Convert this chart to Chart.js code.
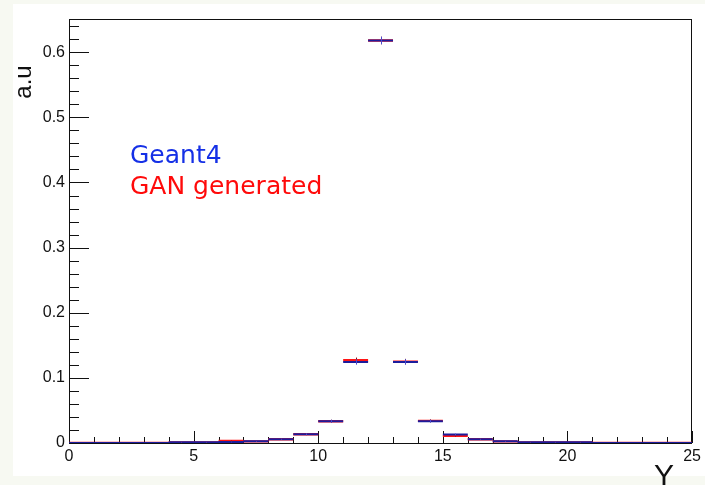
<!DOCTYPE html>
<html>
<head>
<meta charset="utf-8">
<script src="https://cdn.jsdelivr.net/npm/chart.js@4.4.1/dist/chart.umd.min.js"></script>
<style>
  html, body { margin: 0; padding: 0; background: #f7f9f2; overflow: hidden; }
  canvas { display: block; }
</style>
</head>
<body>
<canvas id="c" width="705" height="485"></canvas>
<script>
// Histogram bins: low edges, unit width
const BIN_LOW = [0, 1, 2, 3, 4, 5, 6, 7, 8, 9, 10, 11, 12, 13, 14, 15, 16, 17, 18, 19, 20, 21, 22, 23, 24];
const BIN_WIDTH = 1;

// Normalised bin contents
const GEANT4 = [0, 0, 0, 0, 0.0010, 0.0010, 0.0015, 0.0025, 0.0058, 0.0135, 0.0335, 0.1245, 0.6180, 0.1245, 0.0335, 0.0130, 0.0058, 0.0025, 0.0010, 0.0010, 0.0010, 0, 0, 0, 0];
const GEANT4_ERR = [0, 0, 0, 0, 0.0004, 0.0004, 0.0005, 0.0006, 0.0009, 0.0014, 0.0022, 0.0042, 0.0058, 0.0042, 0.0022, 0.0014, 0.0009, 0.0006, 0.0004, 0.0004, 0.0004, 0, 0, 0, 0];
const GAN = [0, 0, 0, 0, 0.0010, 0.0010, 0.0030, 0.0025, 0.0058, 0.0135, 0.0335, 0.1270, 0.6180, 0.1250, 0.0340, 0.0110, 0.0058, 0.0025, 0.0010, 0.0010, 0.0010, 0, 0, 0, 0];
const GAN_ERR = [0, 0, 0, 0, 0.0004, 0.0004, 0.0007, 0.0006, 0.0009, 0.0014, 0.0022, 0.0042, 0.0058, 0.0042, 0.0022, 0.0012, 0.0009, 0.0006, 0.0004, 0.0004, 0.0004, 0, 0, 0, 0];

const SERIES_NAMES = ['Geant4', 'GAN generated'];

const X_TICKS = [0, 5, 10, 15, 20, 25];
const X_TICK_LABELS = ['0', '5', '10', '15', '20', '25'];
const Y_TICKS = [0, 0.1, 0.2, 0.3, 0.4, 0.5, 0.6];
const Y_TICK_LABELS = ['0', '0.1', '0.2', '0.3', '0.4', '0.5', '0.6'];
const X_TITLE = 'Y';
const Y_TITLE = 'a.u';

const X_RANGE = [0, 25];
const Y_RANGE = [0, 0.651];

const BLUE = '#1c1c9c';
const RED = '#ff1414';

// Each bin becomes a flat segment; a null point breaks the line between bins
function binSegments(values) {
  const pts = [];
  BIN_LOW.forEach((lo, i) => {
    pts.push({ x: lo, y: values[i] });
    pts.push({ x: lo + BIN_WIDTH, y: values[i] });
    pts.push({ x: lo + BIN_WIDTH, y: null });
  });
  return pts;
}

const SANS = '"Liberation Sans", Arial, sans-serif';

// Canvas backgrounds, frame with inward ticks, error bars, labels
const rootStyle = {
  id: 'rootStyle',
  beforeDraw(chart) {
    const ctx = chart.ctx;
    ctx.save();
    ctx.fillStyle = '#f7f9f2';
    ctx.fillRect(0, 0, chart.width, chart.height);
    ctx.fillStyle = '#ffffff';
    ctx.fillRect(13, 4, chart.width - 13, 472);
    ctx.restore();
  },
  beforeDatasetsDraw(chart) {
    const ctx = chart.ctx;
    const a = chart.chartArea;
    const xs = chart.scales.x, ys = chart.scales.y;
    ctx.save();
    ctx.lineWidth = 1;
    ctx.strokeStyle = '#111';
    // frame
    ctx.strokeRect(Math.round(a.left) + 0.5, Math.round(a.top) + 0.5,
                   Math.round(a.right - a.left) - 1, Math.round(a.bottom - a.top));
    ctx.beginPath();
    // y ticks: majors plus 5 subdivisions
    const yStep = Y_TICKS[1] - Y_TICKS[0];
    for (let v = Y_TICKS[0]; v <= Y_RANGE[1] + 1e-9; v += yStep / 5) {
      const k = Math.round((v - Y_TICKS[0]) / (yStep / 5));
      const len = (k % 5 === 0) ? 20 : 10;
      const py = Math.round(ys.getPixelForValue(v)) + 0.5;
      ctx.moveTo(a.left, py); ctx.lineTo(a.left + len, py);
    }
    // x ticks: majors plus unit minors
    const xStep = X_TICKS[1] - X_TICKS[0];
    for (let v = X_RANGE[0]; v <= X_RANGE[1]; v += 1) {
      const len = (v % xStep === 0) ? 12 : 6;
      const px = Math.round(xs.getPixelForValue(v)) + 0.5;
      ctx.moveTo(px, a.bottom); ctx.lineTo(px, a.bottom - len);
    }
    ctx.stroke();
    ctx.restore();
  },
  afterDatasetsDraw(chart) {
    const ctx = chart.ctx;
    const xs = chart.scales.x, ys = chart.scales.y;
    ctx.save();
    ctx.lineWidth = 1;
    const bars = [[GAN, GAN_ERR, '#8a1010'], [GEANT4, GEANT4_ERR, '#4a4ad0']];
    bars.forEach(([vals, errs, col]) => {
      ctx.strokeStyle = col;
      ctx.beginPath();
      BIN_LOW.forEach((lo, i) => {
        if (!errs[i]) return;
        const px = Math.round(xs.getPixelForValue(lo + BIN_WIDTH / 2)) + 0.5;
        ctx.moveTo(px, ys.getPixelForValue(vals[i] - errs[i]));
        ctx.lineTo(px, ys.getPixelForValue(vals[i] + errs[i]));
      });
      ctx.stroke();
    });
    ctx.restore();
  },
  afterDraw(chart) {
    const ctx = chart.ctx;
    ctx.save();
    // series labels
    ctx.font = '25px "DejaVu Sans", sans-serif';
    ctx.textAlign = 'left';
    ctx.textBaseline = 'alphabetic';
    ctx.fillStyle = '#1530e6';
    ctx.fillText(SERIES_NAMES[0], 130, 163);
    ctx.fillStyle = '#ff0a0a';
    ctx.fillText(SERIES_NAMES[1], 130, 194);
    // axis titles
    ctx.fillStyle = '#111';
    ctx.font = '30px ' + SANS;
    ctx.textAlign = 'right';
    ctx.fillText(X_TITLE, 674, 485);
    ctx.translate(31, 82);
    ctx.rotate(-Math.PI / 2);
    ctx.textAlign = 'center';
    ctx.font = '24px ' + SANS;
    ctx.fillText(Y_TITLE, 0, 0);
    ctx.restore();
  }
};

new Chart(document.getElementById('c'), {
  type: 'line',
  data: {
    datasets: [
      {
        label: SERIES_NAMES[0],
        data: binSegments(GEANT4),
        borderColor: BLUE,
        borderWidth: 2,
        pointRadius: 0,
        spanGaps: false,
        fill: false,
        tension: 0
      },
      {
        label: SERIES_NAMES[1],
        data: binSegments(GAN),
        borderColor: RED,
        borderWidth: 2.4,
        pointRadius: 0,
        spanGaps: false,
        fill: false,
        tension: 0
      }
    ]
  },
  options: {
    responsive: false,
    animation: false,
    devicePixelRatio: 1,
    parsing: false,
    layout: { padding: { top: 19, right: 10, left: 0, bottom: 0 } },
    plugins: { legend: { display: false }, tooltip: { enabled: false } },
    scales: {
      x: {
        type: 'linear',
        min: X_RANGE[0],
        max: X_RANGE[1],
        grid: { display: false, drawTicks: false },
        border: { display: false },
        afterBuildTicks(scale) { scale.ticks = X_TICKS.map(v => ({ value: v })); },
        afterFit(scale) { scale.height = 42; },
        ticks: {
          padding: 4,
          maxRotation: 0,
          autoSkip: false,
          color: '#111',
          font: { family: SANS, size: 16 },
          callback: (v, i) => X_TICK_LABELS[i]
        }
      },
      y: {
        type: 'linear',
        min: Y_RANGE[0],
        max: Y_RANGE[1],
        grid: { display: false, drawTicks: false },
        border: { display: false },
        afterBuildTicks(scale) { scale.ticks = Y_TICKS.map(v => ({ value: v })); },
        afterFit(scale) { scale.width = 69; },
        ticks: {
          padding: 4,
          autoSkip: false,
          color: '#111',
          font: { family: SANS, size: 16 },
          callback: (v, i) => Y_TICK_LABELS[i]
        }
      }
    }
  },
  plugins: [rootStyle]
});
</script>
</body>
</html>
